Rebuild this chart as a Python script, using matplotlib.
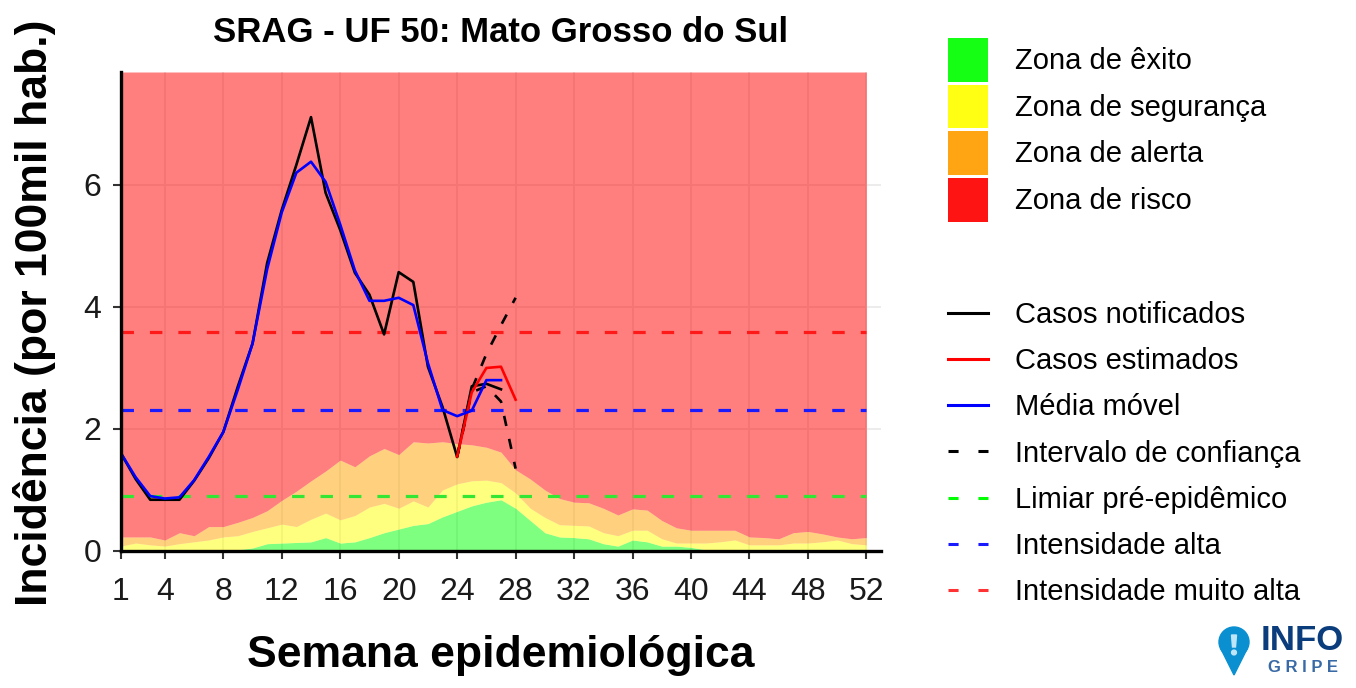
import numpy as np
import matplotlib
matplotlib.use("Agg")
import matplotlib.pyplot as plt
from matplotlib.patches import Patch, Circle, Polygon
from matplotlib.lines import Line2D

plt.rcParams['font.family'] = ['Liberation Sans', 'DejaVu Sans']

weeks = np.arange(1, 53)

# upper edge of each zone (stacked), per epidemiological week
green_top = [0, 0, 0, 0, 0, 0, 0.02, 0.02, 0.02, 0.05, 0.12, 0.13, 0.14, 0.15, 0.22, 0.13,
             0.15, 0.22, 0.3, 0.36, 0.42, 0.45, 0.56, 0.65, 0.74, 0.8, 0.84, 0.7, 0.5, 0.3,
             0.23, 0.22, 0.2, 0.12, 0.08, 0.18, 0.15, 0.08, 0.08, 0.06, 0.02, 0.02, 0.02,
             0.02, 0.02, 0.02, 0.02, 0.02, 0.02, 0.02, 0.02, 0.02]
yellow_top = [0.08, 0.13, 0.1, 0.08, 0.12, 0.15, 0.18, 0.23, 0.25, 0.32, 0.38, 0.44, 0.4,
              0.52, 0.62, 0.51, 0.58, 0.72, 0.78, 0.7, 0.82, 0.72, 1.0, 1.1, 1.15, 1.16, 1.12,
              0.95, 0.7, 0.55, 0.43, 0.42, 0.41, 0.3, 0.25, 0.34, 0.34, 0.2, 0.13, 0.13, 0.13,
              0.15, 0.18, 0.1, 0.1, 0.1, 0.13, 0.13, 0.15, 0.18, 0.12, 0.1]
orange_top = [0.23, 0.23, 0.23, 0.18, 0.3, 0.25, 0.4, 0.4, 0.47, 0.55, 0.66, 0.83, 0.98,
              1.15, 1.31, 1.49, 1.38, 1.56, 1.68, 1.58, 1.79, 1.77, 1.79, 1.76, 1.74, 1.70,
              1.62, 1.33, 1.18, 1.0, 0.86, 0.8, 0.79, 0.7, 0.59, 0.69, 0.67, 0.5, 0.38, 0.34,
              0.34, 0.34, 0.34, 0.23, 0.22, 0.2, 0.3, 0.32, 0.28, 0.23, 0.2, 0.22]

obs_weeks = np.arange(1, 28)
notified = [1.6, 1.18, 0.84, 0.84, 0.84, 1.15, 1.52, 1.95, 2.7, 3.4, 4.72, 5.59, 6.33, 7.11,
            5.87, 5.26, 4.56, 4.2, 3.55, 4.57, 4.41, 3.02, 2.36, 1.54, 2.7, 2.74, 2.65]
moving_avg = [1.6, 1.21, 0.9, 0.86, 0.88, 1.16, 1.54, 1.95, 2.65, 3.4, 4.62, 5.55, 6.2, 6.38,
              6.05, 5.35, 4.6, 4.1, 4.1, 4.15, 4.03, 3.08, 2.31, 2.21, 2.3, 2.8, 2.8]

est_weeks = np.arange(24, 29)
estimated = [1.55, 2.6, 3.0, 3.02, 2.48]
ci_low = [1.55, 2.6, 2.7, 2.45, 1.35]
ci_high = [1.55, 2.65, 3.23, 3.7, 4.15]

pre_epidemic = 0.9
high_int = 2.31
very_high_int = 3.59

xticks = [1, 4, 8, 12, 16, 20, 24, 28, 32, 36, 40, 44, 48, 52]
yticks = [0, 2, 4, 6]
ymax = 7.85

fig = plt.figure(figsize=(13.56, 6.88), dpi=100)
ax = fig.add_axes([121 / 1356, 1 - 551 / 688, 760 / 1356, 479 / 688])
ax.set_xlim(1, 53)
ax.set_ylim(0, ymax)

ax.grid(True, color='#EBEBEB', lw=1.3, zorder=0)
ax.set_axisbelow(True)

ax.fill_between(weeks, 0, green_top, color='#00FF00', alpha=0.5, lw=0, zorder=1)
ax.fill_between(weeks, green_top, yellow_top, color='#FFFF00', alpha=0.5, lw=0, zorder=1)
ax.fill_between(weeks, yellow_top, orange_top, color='#FFA500', alpha=0.5, lw=0, zorder=1)
ax.fill_between(weeks, orange_top, ymax, color='#FF0000', alpha=0.5, lw=0, zorder=1)

dash = (0, (3.9, 5.0))
ax.hlines(pre_epidemic, 1, 52, color='#33E633', lw=2.3, ls=dash, zorder=2)
ax.hlines(high_int, 1, 52, color='#1A1AFF', lw=2.3, ls=dash, zorder=2)
ax.hlines(very_high_int, 1, 52, color='#FF1A1A', lw=2.3, ls=dash, zorder=2)

ax.plot(est_weeks, ci_low, color='black', lw=1.9, ls=dash, zorder=3)
ax.plot(est_weeks, ci_high, color='black', lw=1.9, ls=dash, zorder=3)
ax.plot(obs_weeks, notified, color='black', lw=1.9, zorder=4)
ax.plot(est_weeks, estimated, color='#FF0000', lw=1.9, zorder=5)
ax.plot(obs_weeks, moving_avg, color='#0000FF', lw=1.9, zorder=6)

ax.set_xticks(xticks)
ax.set_yticks(yticks)
ax.tick_params(axis='both', labelsize=23, length=6, width=1.5, color='#333333',
               labelcolor='#1A1A1A')
ax.tick_params(axis='x', pad=13)
ax.tick_params(axis='y', pad=8)
for side in ['top', 'right']:
    ax.spines[side].set_visible(False)
for side in ['left', 'bottom']:
    ax.spines[side].set_linewidth(2.4)
    ax.spines[side].set_color('black')
    ax.spines[side].set_zorder(7)

fig.text(501 / 1356, 1 - 33 / 688, 'SRAG - UF 50: Mato Grosso do Sul', ha='center',
         va='center', fontsize=25, fontweight='bold')
fig.text(501 / 1356, 1 - 655 / 688, 'Semana epidemiológica', ha='center', va='center',
         fontsize=32, fontweight='bold')
fig.text(35 / 1356, 1 - 313 / 688, 'Incidência (por 100mil hab.)', ha='center', va='center',
         rotation=90, fontsize=32, fontweight='bold')

zone_handles = [Patch(facecolor='#14FF14', edgecolor='none'),
                Patch(facecolor='#FFFF14', edgecolor='none'),
                Patch(facecolor='#FFA514', edgecolor='none'),
                Patch(facecolor='#FF1414', edgecolor='none')]
zone_labels = ['Zona de êxito', 'Zona de segurança', 'Zona de alerta', 'Zona de risco']
leg1 = fig.legend(zone_handles, zone_labels, loc='upper left',
                  bbox_to_anchor=(948 / 1356, 1 - 38 / 688), frameon=False, fontsize=21,
                  handlelength=1.37, handleheight=1.94, handletextpad=0.92,
                  labelspacing=0.09, borderpad=0, borderaxespad=0)

leg_dash = (0, (3.3, 6.5))
line_handles = [Line2D([], [], color='black', lw=2.2),
                Line2D([], [], color='#FF0000', lw=2.2),
                Line2D([], [], color='#0000FF', lw=2.2),
                Line2D([], [], color='black', lw=2.2, ls=leg_dash),
                Line2D([], [], color='#00FF00', lw=2.2, ls=leg_dash),
                Line2D([], [], color='#1A1AFF', lw=2.2, ls=leg_dash),
                Line2D([], [], color='#FF3333', lw=2.2, ls=leg_dash)]
line_labels = ['Casos notificados', 'Casos estimados', 'Média móvel', 'Intervalo de confiança',
               'Limiar pré-epidêmico', 'Intensidade alta', 'Intensidade muito alta']
leg2 = fig.legend(line_handles, line_labels, loc='upper left',
                  bbox_to_anchor=(948 / 1356, 1 - 301 / 688), frameon=False, fontsize=21,
                  handlelength=1.37, handletextpad=0.92, labelspacing=0.625,
                  borderpad=0, borderaxespad=0)

# InfoGripe logo
lax = fig.add_axes([1212 / 1356, 1 - 680 / 688, 44 / 1356, 60 / 688])
lax.set_xlim(0, 44)
lax.set_ylim(0, 60)
lax.axis('off')
lax.add_patch(Circle((22, 38), 15, color='#0A8FD1'))
lax.add_patch(Polygon([[8.5, 32], [35.5, 32], [22, 5]], color='#0A8FD1'))
lax.add_patch(Polygon([[19.5, 45], [24.5, 45], [23.5, 33], [20.5, 33]], color='#BFE6F8'))
lax.add_patch(Circle((22, 27.5), 2.4, color='#BFE6F8'))
fig.text(1261 / 1356, 1 - 640 / 688, 'INFO', ha='left', va='center', fontsize=25,
         fontweight='bold', color='#0B3D7C')
fig.text(1303 / 1356, 1 - 668 / 688, 'G R I P E', ha='center', va='center', fontsize=12,
         fontweight='bold', color='#3A6AA6')

fig.savefig('out.png', dpi=100)
